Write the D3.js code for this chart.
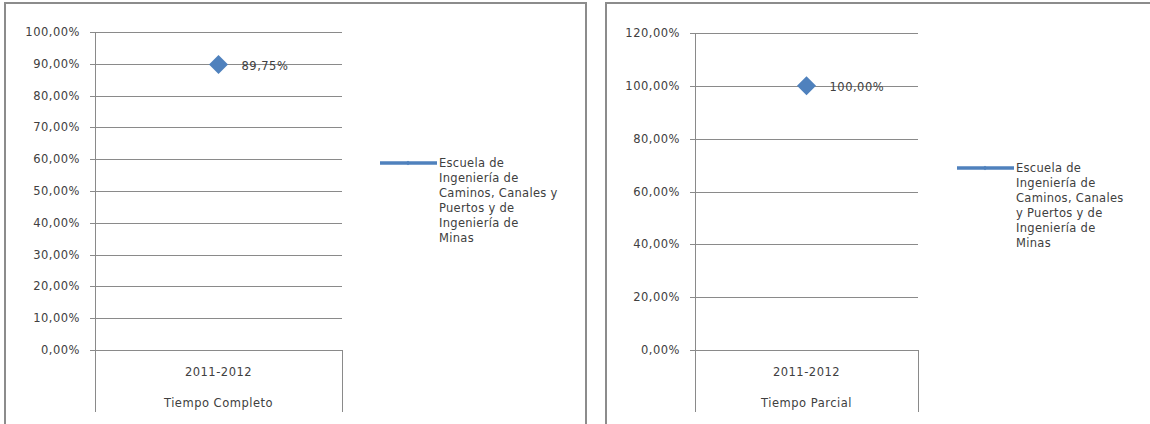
<!DOCTYPE html>
<html>
<head>
<meta charset="utf-8">
<script src="https://cdn.jsdelivr.net/npm/d3@7"></script>
<style>
  body { margin: 0; background: #fff; }
  svg { display: block; }
  text { font-family: "DejaVu Sans", sans-serif; fill: #404040; }
</style>
</head>
<body>
<svg id="chart" width="1150" height="424"></svg>
<script>
// chart data
const seriesName = "Escuela de Ingeniería de Caminos, Canales y Puertos y de Ingeniería de Minas"
const categories = ["2011-2012"]
const groupLabels = ["Tiempo Completo", "Tiempo Parcial"]
const valuesCompleto = [0.8975]
const valuesParcial = [1.0]
const ticksCompleto = [0, 0.1, 0.2, 0.3, 0.4, 0.5, 0.6, 0.7, 0.8, 0.9, 1.0]
const ticksParcial = [0, 0.2, 0.4, 0.6, 0.8, 1.0, 1.2]
const legendLinesCompleto = ["Escuela de", "Ingeniería de", "Caminos, Canales y", "Puertos y de", "Ingeniería de", "Minas"]
const legendLinesParcial = ["Escuela de", "Ingeniería de", "Caminos, Canales", "y Puertos y de", "Ingeniería de", "Minas"]

const blue = "#4F81BD"
const gridColor = "#8a8a8a"
const svg = d3.select("#chart")

const fmt = v => d3.format(".2f")(v * 100).replace(".", ",") + "%"

function panel(opts) {
  const g = svg.append("g")

  // frame
  g.append("rect")
    .attr("x", opts.frame[0]).attr("y", opts.frame[1])
    .attr("width", opts.frame[2]).attr("height", opts.frame[3])
    .attr("fill", "#fff").attr("stroke", "#8c8c8c").attr("stroke-width", 2)

  const y = d3.scaleLinear().domain([0, d3.max(opts.ticks)]).range([opts.bottom, opts.top])
  const x = d3.scaleBand().domain(categories).range([opts.left, opts.right])

  // grid lines
  g.append("g").selectAll("line").data(opts.ticks).enter().append("line")
    .attr("x1", opts.left - 5).attr("x2", opts.right)
    .attr("y1", d => Math.round(y(d)) + 0.5).attr("y2", d => Math.round(y(d)) + 0.5)
    .attr("stroke", gridColor).attr("stroke-width", 1)

  // y axis labels
  g.append("g").selectAll("text").data(opts.ticks).enter().append("text")
    .attr("x", opts.left - 15).attr("y", d => y(d) + 4)
    .attr("text-anchor", "end")
    .attr("font-size", "11.5px").attr("letter-spacing", "0.5px")
    .text(fmt)

  // axis and category separators
  ;[opts.left, opts.right].forEach(xx => {
    g.append("line")
      .attr("x1", xx + 0.5).attr("x2", xx + 0.5)
      .attr("y1", xx === opts.left ? opts.top : opts.bottom).attr("y2", opts.bottom + 62)
      .attr("stroke", gridColor)
  })

  // category labels
  categories.forEach(c => {
    const cx = x(c) + x.bandwidth() / 2
    g.append("text").attr("x", cx).attr("y", opts.bottom + 26)
      .attr("text-anchor", "middle").attr("font-size", "11.5px").attr("letter-spacing", "0.5px")
      .text(c)
    g.append("text").attr("x", cx).attr("y", opts.bottom + 57)
      .attr("text-anchor", "middle").attr("font-size", "11.5px").attr("letter-spacing", "0.5px")
      .text(opts.group)
  })

  // points
  const diamond = d3.symbol().type(d3.symbolDiamond2).size(230)
  opts.values.forEach((v, i) => {
    const px = x(categories[i]) + x.bandwidth() / 2
    g.append("path").attr("d", diamond())
      .attr("transform", `translate(${px},${y(v)}) rotate(0)`)
      .attr("fill", blue)
    g.append("text").attr("x", px + 23).attr("y", y(v) + 5)
      .attr("font-size", "11.5px").attr("letter-spacing", "0.5px")
      .text(fmt(v))
  })

  // legend
  const lg = g.append("g").attr("transform", `translate(${opts.legend[0]},${opts.legend[1]})`)
  lg.append("line").attr("x1", 0).attr("x2", 57).attr("y1", 0).attr("y2", 0)
    .attr("stroke", blue).attr("stroke-width", 3.5)
  lg.append("path").attr("d", d3.symbol().type(d3.symbolDiamond2).size(14)())
    .attr("transform", "translate(28,0)").attr("fill", blue)
  lg.append("text").attr("x", 59).attr("y", 4)
    .attr("font-size", "11.5px").attr("letter-spacing", "0.3px")
    .selectAll("tspan").data(opts.legendLines).enter().append("tspan")
    .attr("x", 59).attr("dy", (d, i) => i === 0 ? 0 : 15)
    .text(d => d)
}

panel({
  frame: [5, 3, 581, 430], left: 95, right: 342, top: 32, bottom: 350,
  ticks: ticksCompleto, values: valuesCompleto, group: groupLabels[0],
  legend: [380, 163], legendLines: legendLinesCompleto
})
panel({
  frame: [606, 3, 560, 430], left: 695, right: 918, top: 33, bottom: 350,
  ticks: ticksParcial, values: valuesParcial, group: groupLabels[1],
  legend: [957, 168], legendLines: legendLinesParcial
})
</script>
</body>
</html>
